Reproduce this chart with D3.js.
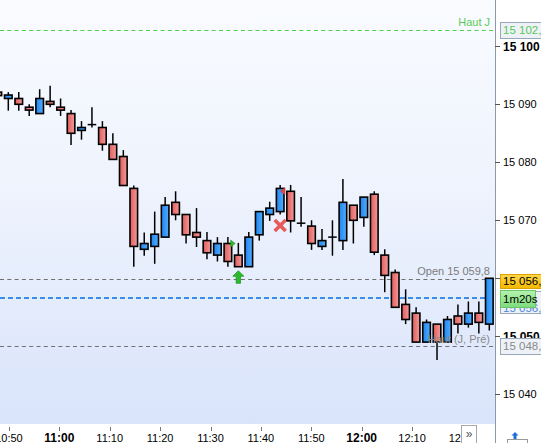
<!DOCTYPE html>
<html><head><meta charset="utf-8">
<script src="https://cdn.jsdelivr.net/npm/d3@7"></script>
<style>
html,body{margin:0;padding:0;background:#fff;}
svg{display:block;font-family:"Liberation Sans",Arial,sans-serif;}
</style></head>
<body>
<svg id="c" width="541" height="443"></svg>
<script>
// ---- data ----
const candleIndex = d3.range(-1, 47);
const opens  = [15092.1,15091.0,15091.0,15089.5,15088.4,15090.5,15089.5,15088.4,15085.5,15086.5,15086.0,15083.1,15081.0,15075.5,15065.0,15065.5,15067.1,15073.1,15071.0,15067.9,15066.5,15064.0,15066.0,15064.0,15062.0,15067.5,15071.0,15071.5,15075.0,15069.5,15069.0,15065.5,15067.1,15066.5,15072.6,15070.5,15074.5,15064.0,15061.0,15055.5,15054.0,15049.0,15052.1,15049.0,15053.5,15052.1,15054.0,15052.1];
const highs  = [15092.3,15092.1,15092.1,15090.0,15092.6,15093.2,15091.0,15089.0,15087.1,15089.5,15087.1,15085.0,15082.1,15076.0,15067.9,15071.5,15074.0,15075.0,15071.0,15072.1,15068.0,15067.1,15067.1,15066.1,15068.0,15071.5,15073.2,15076.1,15076.1,15074.0,15070.0,15068.5,15070.0,15077.1,15072.6,15074.0,15075.0,15065.0,15061.5,15058.1,15055.0,15052.9,15052.1,15053.5,15055.5,15056.0,15056.0,15060.0];
const lows   = [15091.3,15088.9,15088.9,15088.0,15088.4,15089.5,15088.0,15083.0,15083.9,15086.0,15082.0,15080.5,15076.0,15062.0,15063.9,15062.5,15067.1,15070.0,15066.0,15065.4,15063.3,15062.9,15062.0,15062.0,15062.0,15066.5,15069.9,15071.0,15067.9,15068.9,15064.9,15064.9,15063.9,15064.9,15066.0,15068.9,15064.0,15057.6,15055.0,15052.1,15049.0,15049.0,15045.9,15049.0,15050.5,15051.5,15050.5,15051.0];
const closes = [15091.5,15091.6,15090.0,15089.0,15091.0,15090.0,15089.0,15085.0,15086.0,15086.5,15083.1,15080.5,15076.0,15065.5,15066.0,15067.6,15072.6,15071.0,15067.5,15067.1,15064.4,15066.0,15062.9,15062.0,15067.1,15071.5,15072.1,15075.5,15069.9,15069.5,15066.0,15066.5,15067.1,15073.1,15070.0,15074.0,15064.5,15060.5,15055.0,15052.9,15049.0,15052.4,15049.0,15052.9,15052.1,15054.0,15052.4,15060.0];

const timeTicks = ["10:50","11:00","11:10","11:20","11:30","11:40","11:50","12:00","12:10","12:20"];
const priceTicks = [15040,15050,15060,15070,15080,15090,15100];

const levels = [
  {name:"Haut J", value:15102.8, label:"15 102,8", color:"#4fcf4f", text:"#5acb5a"},
  {name:"Open 15 059,8", value:15059.8, label:null, color:"#707070", text:"#7c7c7c"},
  {name:"Haut (J, Pré)", value:15048.3, label:"15 048,3", color:"#707070", text:"#8a8a8a"}
];
const lastPrice = 15056.6;
const lastPriceLabel = "15 056,6";
const timerLabel = "1m20s";

const signals = [
  {type:"arrowUp", i:22, price:15061.3, color:"#2eb82e"},
  {type:"triRight", i:21, price:15066.0, color:"#2eb82e"},
  {type:"triLeft", i:27, price:15075.0, color:"#e04848"},
  {type:"cross", i:26, price:15069.1, color:"#e85a5a"}
];

// ---- layout ----
const W = 541, H = 443;
const plotR = 495, plotB = 424;
const svg = d3.select("#c");

const y = d3.scaleLinear().domain([15040, 15100]).range([394.3, 46.3]);
const xc = d3.scaleLinear().domain([0, 46]).range([8.3, 489.3]);
const toMin = s => { const [h,m] = s.split(":").map(Number); return h*60+m; };
const xt = d3.scaleLinear().domain([660, 720]).range([59.3, 361.7]);

const defs = svg.append("defs");
const bg = defs.append("linearGradient").attr("id","bg").attr("x1",0).attr("y1",0).attr("x2",0).attr("y2",1);
bg.append("stop").attr("offset","0%").attr("stop-color","#f9fbff");
bg.append("stop").attr("offset","45%").attr("stop-color","#eef3fd");
bg.append("stop").attr("offset","100%").attr("stop-color","#d9e4fb");
const gr = defs.append("linearGradient").attr("id","gred").attr("x1",0).attr("x2",1).attr("y1",0).attr("y2",0);
gr.append("stop").attr("offset","0%").attr("stop-color","#e25c5c");
gr.append("stop").attr("offset","100%").attr("stop-color","#f39a9a");
const gb = defs.append("linearGradient").attr("id","gblue").attr("x1",0).attr("x2",1).attr("y1",0).attr("y2",0);
gb.append("stop").attr("offset","0%").attr("stop-color","#1f86ee");
gb.append("stop").attr("offset","100%").attr("stop-color","#52acff");
const gy = defs.append("linearGradient").attr("id","gyel").attr("x1",0).attr("x2",0).attr("y1",0).attr("y2",1);
gy.append("stop").attr("offset","0%").attr("stop-color","#ffd84a");
gy.append("stop").attr("offset","100%").attr("stop-color","#f3b800");
const gg = defs.append("linearGradient").attr("id","ggrn").attr("x1",0).attr("x2",0).attr("y1",0).attr("y2",1);
gg.append("stop").attr("offset","0%").attr("stop-color","#b4f2b0");
gg.append("stop").attr("offset","100%").attr("stop-color","#7edc7a");
defs.append("clipPath").attr("id","clip").append("rect").attr("x",0).attr("y",0).attr("width",plotR).attr("height",plotB);

svg.append("rect").attr("width",W).attr("height",H).attr("fill","#fff");
svg.append("rect").attr("x",0).attr("y",0).attr("width",plotR).attr("height",plotB).attr("fill","url(#bg)");

const plot = svg.append("g").attr("clip-path","url(#clip)");

// level lines
levels.forEach(l => {
  plot.append("line").attr("x1",0).attr("x2",plotR).attr("y1",Math.round(y(l.value))+0.5).attr("y2",Math.round(y(l.value))+0.5)
    .attr("stroke",l.color).attr("stroke-width",1).attr("stroke-dasharray","4,3.3");
});
plot.append("line").attr("x1",0).attr("x2",plotR).attr("y1",y(lastPrice)).attr("y2",y(lastPrice))
  .attr("stroke","#3a8ee8").attr("stroke-width",2).attr("stroke-dasharray","5,3");

// candles
const data = candleIndex.map((k,j)=>({k, o:opens[j], h:highs[j], l:lows[j], c:closes[j]}));
const bw = 7.6;
const cg = plot.append("g");
data.forEach(d => {
  const cx = xc(d.k);
  cg.append("line").attr("x1",cx).attr("x2",cx).attr("y1",y(d.h)).attr("y2",y(d.l))
    .attr("stroke","#000").attr("stroke-width",1.5);
  if (d.o === d.c) {
    cg.append("line").attr("x1",cx-bw/2-0.5).attr("x2",cx+bw/2+0.5).attr("y1",y(d.o)).attr("y2",y(d.o))
      .attr("stroke","#000").attr("stroke-width",1.5);
  } else {
    const up = d.c > d.o;
    const top = y(Math.max(d.o,d.c)), bot = y(Math.min(d.o,d.c));
    cg.append("rect").attr("x",cx-bw/2).attr("y",top).attr("width",bw).attr("height",Math.max(1,bot-top))
      .attr("fill", up ? "url(#gblue)" : "url(#gred)").attr("stroke","#000").attr("stroke-width",1.6);
  }
});

// signals
signals.forEach(s => {
  const cx = xc(s.i), cy = y(s.price);
  if (s.type === "arrowUp") {
    const p = [[0,0],[5.5,5.5],[2.2,5.5],[2.2,12.5],[-2.2,12.5],[-2.2,5.5],[-5.5,5.5]];
    plot.append("path").attr("d", d3.line()(p.map(q=>[cx+q[0], cy+q[1]]))+"Z")
      .attr("fill",s.color).attr("stroke","#1f9a1f").attr("stroke-width",0.8);
  } else if (s.type === "triRight") {
    const x0 = cx + bw/2 - 1;
    plot.append("path").attr("d", `M${x0},${cy-3.5}L${x0+4.5},${cy}L${x0},${cy+3.5}Z`)
      .attr("fill",s.color).attr("stroke","#1f9a1f").attr("stroke-width",0.6);
  } else if (s.type === "triLeft") {
    const x1 = cx - bw/2 - 1.8;
    plot.append("path").attr("d", `M${x1},${cy-3.5}L${x1-4.5},${cy}L${x1},${cy+3.5}Z`)
      .attr("fill",s.color).attr("stroke","#c03030").attr("stroke-width",0.6);
  } else if (s.type === "cross") {
    const r = 4.2;
    plot.append("path").attr("d",`M${cx-r},${cy-r}L${cx+r},${cy+r}M${cx+r},${cy-r}L${cx-r},${cy+r}`)
      .attr("stroke",s.color).attr("stroke-width",3.6).attr("stroke-linecap","square");
  }
});

// in-plot level texts
const lvlText = [
  {t:levels[0].name, v:levels[0].value, col:levels[0].text, dy:-4.5},
  {t:levels[1].name, v:levels[1].value, col:levels[1].text, dy:-4.5},
  {t:levels[2].name, v:levels[2].value, col:levels[2].text, dy:-3.5}
];
lvlText.forEach(l => {
  plot.append("text").attr("x",490).attr("y",y(l.v)+l.dy).attr("text-anchor","end")
    .attr("font-size",11).attr("fill",l.col).text(l.t);
});

// right axis
svg.append("line").attr("x1",plotR+0.5).attr("x2",plotR+0.5).attr("y1",0).attr("y2",H).attr("stroke","#8c9aa8").attr("stroke-width",1);
const ya = svg.append("g");
priceTicks.forEach(v => {
  const yy = Math.round(y(v))+0.5;
  ya.append("line").attr("x1",plotR).attr("x2",plotR+5).attr("y1",yy).attr("y2",yy).attr("stroke","#555");
  const bold = v % 50 === 0;
  ya.append("text").attr("x",503).attr("y",y(v)).attr("dy","0.36em")
    .attr("font-size", bold ? 12 : 11).attr("font-weight", bold ? "bold" : "normal")
    .attr("fill","#000").text(d3.format(",")(v).replace(",", " "));
});

// price boxes
function box(x,y0,w,h,fill,stroke,txt,col){
  svg.append("rect").attr("x",x+0.5).attr("y",y0+0.5).attr("width",w).attr("height",h).attr("fill",fill).attr("stroke",stroke);
  svg.append("text").attr("x",x+3).attr("y",y0+h/2).attr("dy","0.36em").attr("font-size",11.5).attr("fill",col).text(txt);
}
box(500, Math.round(y(levels[0].value))-8, 44, 16, "#eef2f8", "#98a8b8", levels[0].label, "#58c858");
box(500, Math.round(y(levels[2].value))-8, 44, 16, "#eef2f8", "#98a8b8", levels[2].label, "#8a8a8a");
box(500, Math.round(y(lastPrice))-7, 44, 22, "#eef2f8", "#98a8b8", "", "#000");
svg.append("text").attr("x",503).attr("y",Math.round(y(lastPrice))+10).attr("dy","0.36em").attr("font-size",11.5).attr("fill","#4f84d8").text(lastPriceLabel);
box(500, Math.round(y(lastPrice))-8, 35, 17, "url(#ggrn)", "#6cc46c", timerLabel, "#000");
box(500, Math.round(y(levels[1].value))-5, 44, 14, "url(#gyel)", "#d9a200", lastPriceLabel, "#000");

// bottom axis
const xa = svg.append("g");
timeTicks.forEach(t => {
  const xx = Math.round(xt(toMin(t)))+0.5;
  xa.append("line").attr("x1",xx).attr("x2",xx).attr("y1",427).attr("y2",431).attr("stroke","#777");
  const bold = t.endsWith(":00");
  xa.append("text").attr("x",xt(toMin(t))).attr("y",442).attr("text-anchor","middle")
    .attr("font-size", bold ? 12 : 11).attr("font-weight", bold ? "bold" : "normal").attr("fill","#000").text(t);
});
// scroll button
svg.append("rect").attr("x",461.5).attr("y",425.5).attr("width",15).attr("height",20).attr("fill","#fff").attr("stroke","#a8a8a8");
svg.append("text").attr("x",469).attr("y",438).attr("text-anchor","middle").attr("font-size",12).attr("fill","#555").text("»");
// corner icon
svg.append("path").attr("d","M515,432L518.5,435.5L516.5,435.5L516.5,439L513.5,439L513.5,435.5L511.5,435.5Z").attr("fill","#1a6fe0");
svg.append("rect").attr("x",507.5).attr("y",439.5).attr("width",20).attr("height",6).attr("fill","none").attr("stroke","#333").attr("stroke-dasharray","1,1");
</script>
</body></html>
